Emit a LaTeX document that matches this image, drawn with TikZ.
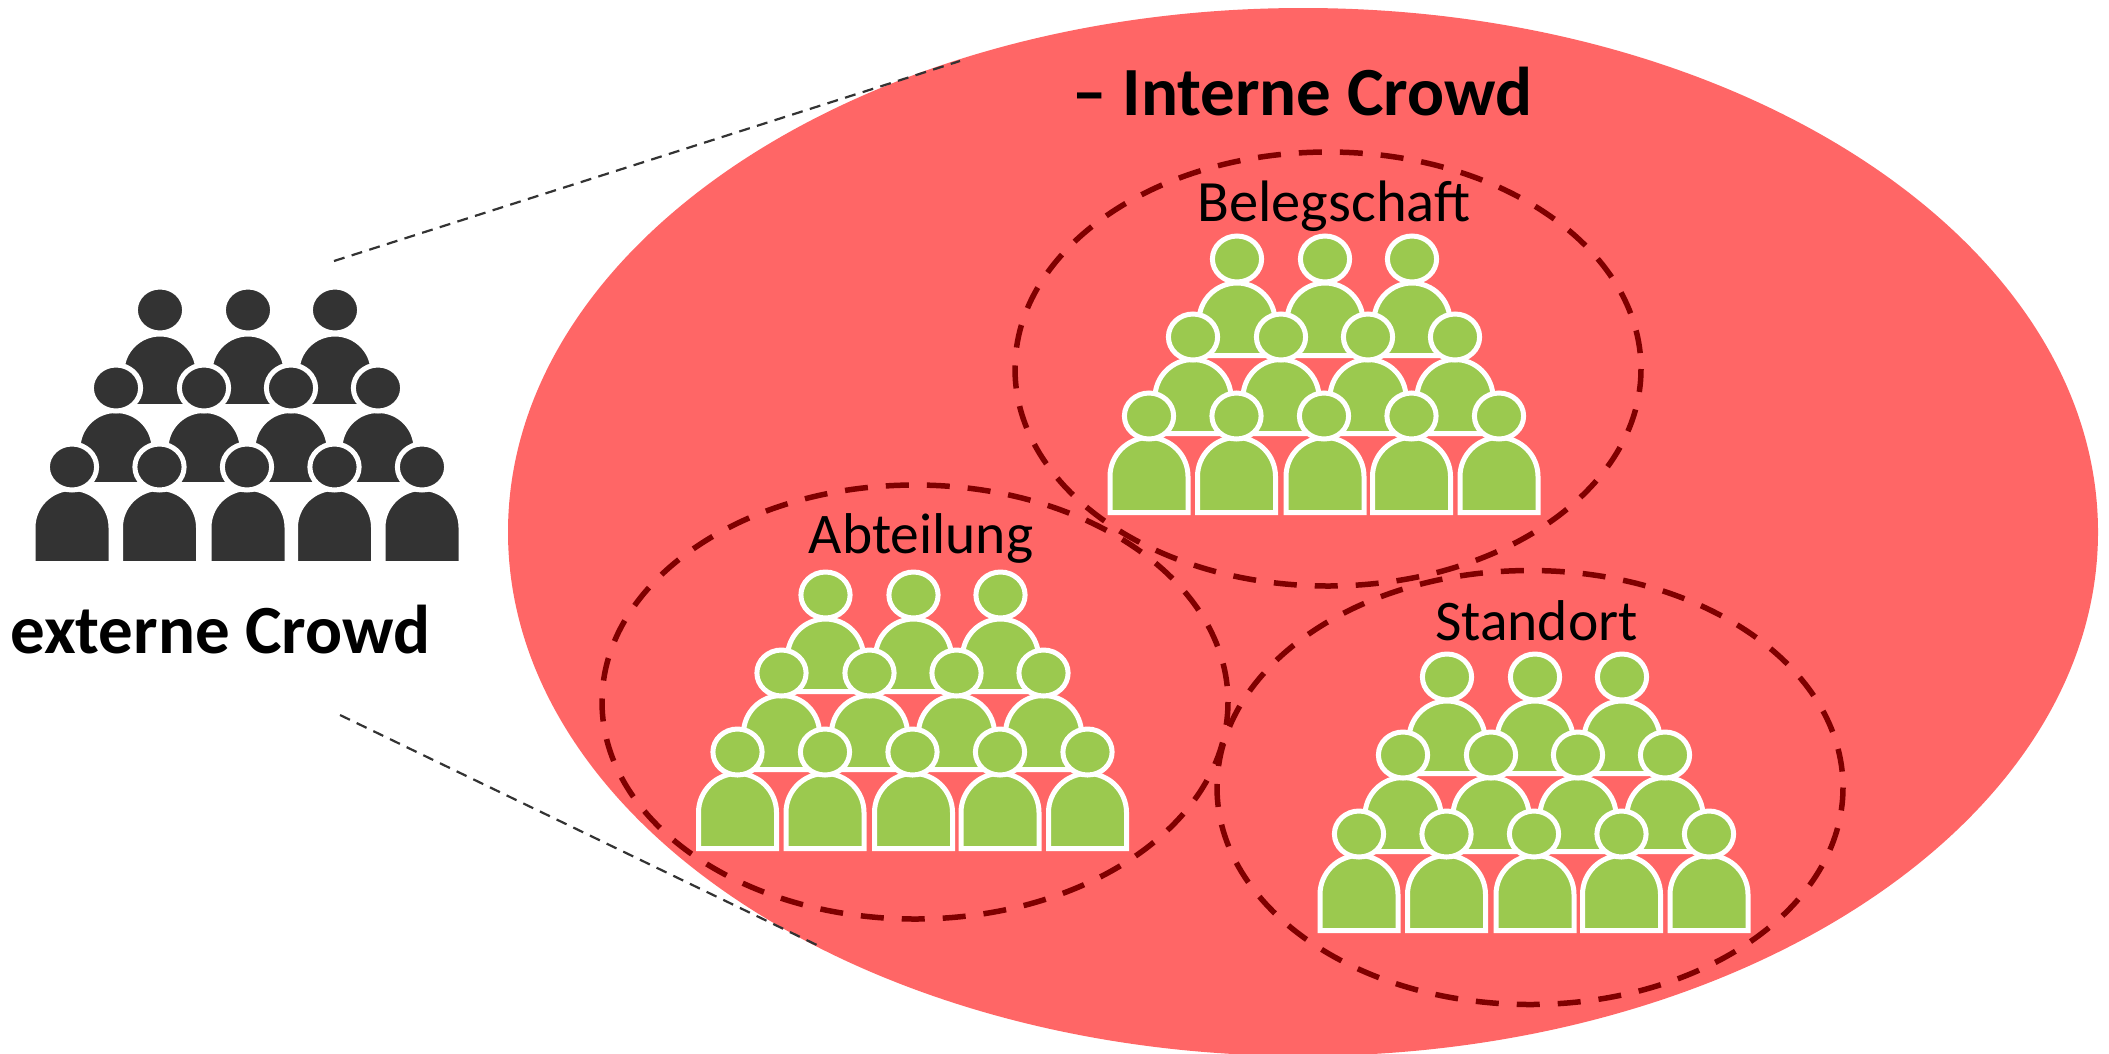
\documentclass[tikz,border=0pt]{standalone}
\usepackage{fontspec}
\setmainfont{Carlito}
\definecolor{bigred}{HTML}{FF6666}
\definecolor{ringred}{HTML}{800000}
\definecolor{leaf}{HTML}{9BC94F}
\definecolor{coal}{HTML}{333333}
\tikzset{
  ring/.style={draw=ringred,line width=5.5pt,dash pattern=on 23pt off 18pt},
  guide/.style={draw=coal,line width=2.2pt,dash pattern=on 11pt off 7.5pt},
  person/.style={draw=white,line width=5pt,fill=#1},
  lab/.style={anchor=base,inner sep=0pt,text=black,font=\fontsize{57.5}{60}\selectfont},
  blab/.style={anchor=base,inner sep=0pt,text=black,font=\fontsize{69}{72}\selectfont\bfseries},
}
% body: centre x, top y, half width, bottom y
\newcommand{\bodyshape}[5]{%
  \path[person=#5] (#1-#3,#4) -- (#1-#3,#2+#3) arc[start angle=180,end angle=360,radius=#3] -- (#1+#3,#4) -- cycle;}
\newcommand{\headshape}[3]{%
  \path[person=#3] (#1,#2) ellipse[x radius=24.6,y radius=23];}
\newcommand{\crowd}[3]{%
  \begin{scope}[shift={(#1,#2)}]
    \foreach \x in {160,248,335}{\headshape{\x}{310}{#3}\bodyshape{\x}{334}{38}{406.5}{#3}}
    \foreach \x in {116,204,291,378}{\bodyshape{\x}{410.5}{38}{484.5}{#3}}
    \foreach \x in {116,204,291,378}{\headshape{\x}{388}{#3}}
    \foreach \x in {72,159.5,248,334.5,422}{\bodyshape{\x}{488.5}{39}{563.5}{#3}}
    \foreach \x in {72,159.5,247,334.5,422}{\headshape{\x}{467}{#3}}
  \end{scope}}
\begin{document}
\begin{tikzpicture}[x=1pt,y=-1pt]
\useasboundingbox (0,0) rectangle (2109,1053);
\begin{scope}
  \clip (0,0) rectangle (2109,1053);
  \fill[bigred] (1303,532) ellipse[x radius=795,y radius=524];
\end{scope}
\coordinate (g1a) at (334,261);
\coordinate (g1b) at (960,61);
\coordinate (g2a) at (340,715);
\coordinate (g2b) at (821,947);
\draw[guide] (g1a) -- (g1b);
\draw[guide] (g2a) -- (g2b);
\crowd{0}{0}{coal}
\crowd{1077}{-51}{leaf}
\crowd{665.5}{285}{leaf}
\crowd{1287}{367}{leaf}
\path[ring] (1328,369) ellipse[x radius=313,y radius=217];
\path[ring] (915,702) ellipse[x radius=313,y radius=217];
\path[ring] (1530,787.5) ellipse[x radius=313,y radius=217];
\node[blab] (ext) at (220.5,653) {externe Crowd};
\node[blab] (int) at (1302.5,115) {– Interne Crowd};
\node[lab,font=\fontsize{58.5}{60}\selectfont] (bel) at (1334,221) {Belegschaft};
\node[lab] (abt) at (921,553) {Abteilung};
\node[lab] (sta) at (1536.5,640) {Standort};
\end{tikzpicture}
\end{document}
